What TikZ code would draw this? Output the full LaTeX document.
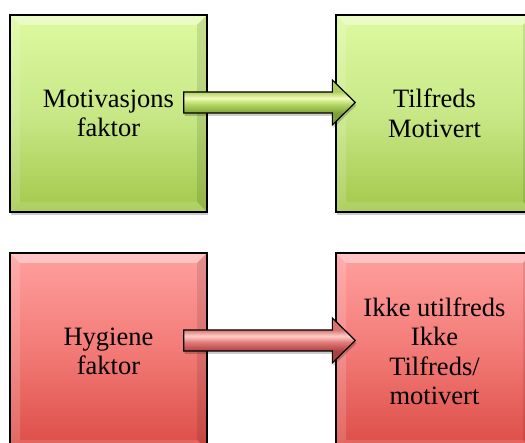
\documentclass[tikz,border=0pt]{standalone}
\usepackage{fontspec}
\setmainfont{Liberation Serif}
\usetikzlibrary{calc,shadows}

% box gradients
\definecolor{gtop}{RGB}{222,250,160}
\definecolor{gmid}{RGB}{200,232,135}
\definecolor{gbot}{RGB}{163,200,75}
\definecolor{rtop}{RGB}{255,160,158}
\definecolor{rmid}{RGB}{242,122,118}
\definecolor{rbot}{RGB}{220,76,70}
% arrow tube colours
\definecolor{gdk}{RGB}{125,160,55}
\definecolor{gmd}{RGB}{180,215,100}
\definecolor{glt}{RGB}{240,252,185}
\definecolor{gmdb}{RGB}{175,205,95}
\definecolor{rdk}{RGB}{170,65,65}
\definecolor{rmd}{RGB}{225,120,118}
\definecolor{rlt}{RGB}{255,205,200}
\definecolor{rmdb}{RGB}{215,115,112}

\pgfdeclareverticalshading{gpipe}{100bp}{color(0bp)=(gdk); color(38bp)=(gdk); color(48bp)=(gmd); color(55bp)=(glt); color(62bp)=(gmdb); color(100bp)=(gmdb)}
\pgfdeclareverticalshading{rpipe}{100bp}{color(0bp)=(rdk); color(38bp)=(rdk); color(48bp)=(rmd); color(55bp)=(rlt); color(62bp)=(rmdb); color(100bp)=(rmdb)}

\newcommand\boxtext{\fontsize{26.5}{29.5}\selectfont}

% block arrow from the right side of one box into the next
\newcommand\factorarrow[3]{%
  \draw[#3] ($(#1.east)+(-24,21.5)$) -- ($(#2.west)+(-3,21.5)$)
    -- ($(#2.west)+(-3,33.5)$) -- ($(#2.west)+(20,11)$)
    -- ($(#2.west)+(-3,-11.5)$) -- ($(#2.west)+(-3,0.5)$)
    -- ($(#1.east)+(-24,0.5)$) -- cycle;}

\tikzset{
  bevelled/.style={path picture={
    \coordinate (bvsw) at (path picture bounding box.south west);
    \coordinate (bvne) at (path picture bounding box.north east);
    \coordinate (bvnw) at (bvsw |- bvne);
    \coordinate (bvse) at (bvne |- bvsw);
    \fill[white,opacity=.4] (bvnw) -- (bvne) -- ($(bvne)+(-10,-10)$) -- ($(bvnw)+(10,-10)$) -- cycle;
    \fill[white,opacity=.15] (bvnw) -- ($(bvnw)+(10,-10)$) -- ($(bvsw)+(10,10)$) -- (bvsw) -- cycle;
    \fill[black,opacity=.1] (bvne) -- ($(bvne)+(-10,-10)$) -- ($(bvse)+(-10,10)$) -- (bvse) -- cycle;
    \fill[white,opacity=.12] (bvsw) -- ($(bvsw)+(10,10)$) -- ($(bvse)+(-10,10)$) -- (bvse) -- cycle;
  }},
  softshadow/.style={drop shadow={shadow xshift=1pt,shadow yshift=-3pt,fill=black,opacity=.2}},
  factorbox/.style={draw=black, line width=1.3pt, minimum width=197pt,
    minimum height=197pt, inner sep=0pt, align=center, font=\boxtext,
    text=black, softshadow, bevelled},
  greenbox/.style={factorbox, top color=gtop, bottom color=gbot, middle color=gmid},
  redbox/.style={factorbox, top color=rtop, bottom color=rbot, middle color=rmid},
  pipearrow/.style={draw=black, line width=1.2pt, line join=miter, softshadow},
  greenarrow/.style={pipearrow, shading=gpipe},
  redarrow/.style={pipearrow, shading=rpipe},
}

\begin{document}
\begin{tikzpicture}[x=1pt,y=1pt]
  \useasboundingbox (0,0) rectangle (525,443);
  \fill[white] (0,0) rectangle (525,443);
  \clip (0,0) rectangle (525,443);

  \node[greenbox] (mot) at (108.5,329.5) {Motivasjons\\faktor};
  \node[greenbox] (tilf) at (434.5,329.5) {Tilfreds\\Motivert};
  \node[redbox] (hyg) at (108.5,91.5) {Hygiene\\faktor};
  \node[redbox] (ikke) at (434.5,91.5) {Ikke utilfreds\\Ikke\\Tilfreds/\\motivert};

  \factorarrow{mot}{tilf}{greenarrow}
  \factorarrow{hyg}{ikke}{redarrow}
\end{tikzpicture}
\end{document}
